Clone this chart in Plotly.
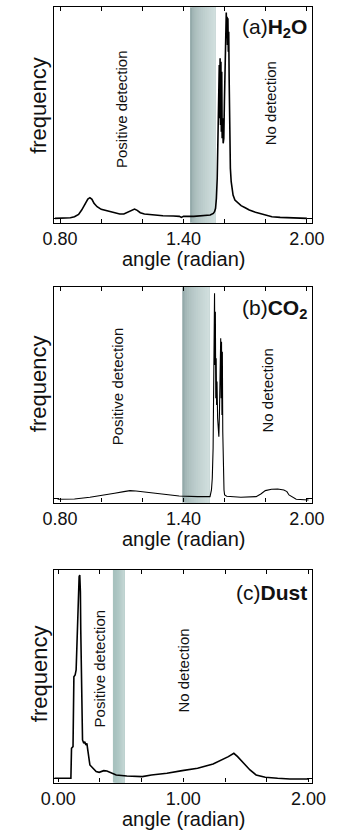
import plotly.graph_objects as go

W, H = 339, 836

# ---------------- data ----------------
# (a) H2O
h2o_x = [0.775, 0.80, 0.85, 0.87, 0.89, 0.905, 0.92, 0.935, 0.945, 0.955, 0.965, 0.98, 1.00, 1.03, 1.06,
         1.09, 1.11, 1.13, 1.15, 1.162, 1.175, 1.19, 1.21, 1.25, 1.30, 1.35, 1.38, 1.39, 1.40, 1.45,
         1.50, 1.53, 1.545, 1.551, 1.556, 1.560, 1.564, 1.568, 1.571, 1.574, 1.576, 1.578, 1.580, 1.582,
         1.584, 1.586, 1.588, 1.590, 1.593, 1.596, 1.599, 1.602, 1.604, 1.606, 1.608, 1.610, 1.612,
         1.614, 1.616, 1.618, 1.620, 1.622, 1.625, 1.628, 1.632, 1.636, 1.641, 1.650, 1.665, 1.68,
         1.70, 1.72, 1.75, 1.77, 1.80, 1.83, 1.87, 1.90, 1.95, 2.00]
h2o_y = [0, 0, 2, 5, 12, 25, 42, 58, 62, 57, 45, 35, 27, 22, 17,
         13, 13, 19, 26, 28, 24, 17, 13, 10, 8, 7, 6, 3, 6, 6,
         8, 10, 15, 20, 30, 60, 120, 250, 330, 460, 300, 480, 280, 470,
         260, 440, 240, 300, 225, 240, 350, 480, 590, 520, 617, 540, 605,
         520, 600, 500, 560, 420, 250, 150, 110, 85, 70, 55, 45, 38,
         32, 25, 18, 15, 10, 5, 3, 2, 1, 0]

# (b) CO2
co2_x = [0.788, 0.870, 0.945, 0.990, 1.020, 1.065, 1.110, 1.140, 1.169, 1.214, 1.259, 1.319, 1.379,
         1.469, 1.521, 1.529, 1.536, 1.540, 1.544, 1.547, 1.549, 1.551, 1.553, 1.555, 1.557, 1.559,
         1.561, 1.563, 1.566, 1.569, 1.572, 1.575, 1.578, 1.581, 1.583, 1.585, 1.587, 1.589, 1.591,
         1.594, 1.597, 1.600, 1.610, 1.679, 1.723, 1.753, 1.776, 1.798, 1.828, 1.858, 1.888, 1.903,
         1.913, 1.948, 2.008]
co2_y = [-3, -2, 3, 7, 10, 15, 20, 23, 22, 19, 15, 10, 7,
         5, 5, 5, 25, 60, 150, 300, 450, 615, 400, 560, 300, 420,
         280, 350, 240, 200, 185, 260, 400, 480, 300, 470, 250, 440, 200,
         80, 25, 10, 6, 3, 3, 5, 13, 23, 27, 28, 25, 20,
         10, -3, -5]

# (c) Dust
dust_x = [-0.030, 0.101, 0.106, 0.118, 0.125, 0.135, 0.143, 0.150, 0.155, 0.162, 0.167, 0.172, 0.177,
          0.180, 0.187, 0.194, 0.204, 0.212, 0.221, 0.229, 0.236, 0.241, 0.253, 0.278, 0.303, 0.327,
          0.364, 0.389, 0.426, 0.463, 0.548, 0.672, 0.745, 0.869, 0.991, 1.114, 1.238, 1.311, 1.360,
          1.404, 1.434, 1.483, 1.533, 1.582, 1.655, 1.754, 1.852, 2.000]
dust_y = [0, 0, 90, 95, 305, 310, 325, 425, 485, 595, 605, 610, 560,
          445, 225, 115, 105, 110, 100, 105, 85, 65, 40, 30, 20, 18,
          23, 22, 15, 10, 7, 5, 10, 15, 23, 30, 43, 55, 65,
          75, 65, 45, 25, 10, 3, 0, -2, -2]

# detection bands (angle ranges)
band_a = [1.432, 1.556]
band_b = [1.394, 1.526]
band_c = [0.437, 0.529]

# tick labels
tick_ab_vals = [0.8, 1.4, 2.0]
tick_ab_text = ["0.80", "1.40", "2.00"]
tick_ab_minor = [1.0, 1.2, 1.6, 1.8]
tick_c_vals = [0.0, 1.0, 2.0]
tick_c_text = ["0.00", "1.00", "2.00"]
tick_c_minor = [1/3, 2/3, 4/3, 5/3]

labels = ["(a)<b>H<sub>2</sub>O</b>", "(b)<b>CO<sub>2</sub></b>", "(c)<b>Dust</b>"]

# ---------------- layout geometry (pixels) ----------------
FONT = "Liberation Sans"
TXT = "#111111"
xl, xr = 44, 324
panels = [  # top, bottom px
    (7.3, 222.7),
    (287.3, 502.5),
    (570.0, 782.5),
]

def px(x):
    return x / W

def py(y):
    return 1 - y / H

fig = go.Figure()
series = [(h2o_x, h2o_y, 1.6), (co2_x, co2_y, 1.1), (dust_x, dust_y, 1.6)]
for i, (xs, ys, lw) in enumerate(series):
    sfx = "" if i == 0 else str(i + 1)
    fig.add_trace(go.Scatter(x=xs, y=ys, mode="lines", line=dict(color="black", width=lw),
                             xaxis="x" + sfx, yaxis="y" + sfx, showlegend=False, hoverinfo="skip"))

xranges = [[0.7686, 2.0256], [0.7686, 2.0256], [-0.037, 2.030]]
yranges = [[-13, 633], [-12.6, 633], [-12.6, 625]]
tickv = [tick_ab_vals, tick_ab_vals, tick_c_vals]
tickt = [tick_ab_text, tick_ab_text, tick_c_text]
tickm = [tick_ab_minor, tick_ab_minor, tick_c_minor]

layout = dict(width=W, height=H, margin=dict(l=0, r=0, t=0, b=0),
              paper_bgcolor="white", plot_bgcolor="white", showlegend=False,
              font=dict(family=FONT, color=TXT))
for i, (top, bot) in enumerate(panels):
    sfx = "" if i == 0 else str(i + 1)
    layout["xaxis" + sfx] = dict(
        domain=[px(xl), px(xr)], range=xranges[i], anchor="y" + sfx,
        showline=True, linecolor="black", linewidth=1.3, mirror="ticks",
        ticks="inside", ticklen=4, tickcolor="black", tickwidth=1,
        tickvals=tickv[i], ticktext=tickt[i], tickfont=dict(size=18, family=FONT, color=TXT),
        minor=dict(tickvals=tickm[i], ticks="inside", ticklen=4, tickcolor="black", tickwidth=1,
                   showgrid=False),
        showgrid=False, zeroline=False, fixedrange=True)
    layout["yaxis" + sfx] = dict(
        domain=[py(bot), py(top)], range=yranges[i], anchor="x" + sfx,
        showline=True, linecolor="black", linewidth=1.3, mirror="ticks",
        ticks="inside", ticklen=5, tickcolor="black", tickvals=[0], showticklabels=False,
        showgrid=False, zeroline=False, fixedrange=True)
fig.update_layout(**layout)

# bands as soft gradient (overlapping strips, dark on the left -> light on the right)
bands = [band_a, band_b, band_c]
for i, (b0, b1) in enumerate(bands):
    sfx = "" if i == 0 else str(i + 1)
    n = 12
    for k in range(n):
        t = k / (n - 1)
        if i < 2:
            c0, c1 = (148, 170, 170), (208, 222, 221)
            col = tuple(int(c0[j] + (c1[j] - c0[j]) * (t ** 0.55)) for j in range(3))
        else:
            c0, c1 = (168, 194, 191), (196, 215, 212)
            col = tuple(int(c0[j] + (c1[j] - c0[j]) * (t ** 1.5)) for j in range(3))
        fig.add_shape(type="rect", xref="x" + sfx, yref="paper",
                      x0=b0 + (b1 - b0) * k / n, x1=b1,
                      y0=py(panels[i][1]), y1=py(panels[i][0]),
                      fillcolor="rgb(%d,%d,%d)" % col, line=dict(width=0), layer="below")

ann = []
# panel labels
lab_y = [28, 309, 592]
for i in range(3):
    ann.append(dict(text=labels[i], x=px(321), y=py(lab_y[i]), xref="paper", yref="paper",
                    xanchor="right", yanchor="middle", showarrow=False,
                    font=dict(size=21, family=FONT, color=TXT)))
# y titles
fy = [105.7, 384, 674]
for i in range(3):
    ann.append(dict(text="frequency", x=px(28.3), y=py(fy[i]), xref="paper", yref="paper",
                    textangle=-90, xanchor="center", yanchor="middle", showarrow=False,
                    font=dict(size=22, family=FONT, color=TXT)))
# x titles
ax_y = [259, 539, 819]
for i in range(3):
    ann.append(dict(text="angle (radian)", x=px(185), y=py(ax_y[i]), xref="paper", yref="paper",
                    xanchor="center", yanchor="middle", showarrow=False,
                    font=dict(size=20, family=FONT, color=TXT)))
# region texts
pos_xy = [(118.3, 108.8), (113.3, 386.7), (93.3, 668.3)]
no_xy = [(278.3, 103.3), (276.7, 390), (185, 670.8)]
for (x, y) in pos_xy:
    ann.append(dict(text="Positive detection", x=px(x), y=py(y), xref="paper", yref="paper",
                    textangle=-90, showarrow=False, xanchor="center", yanchor="middle",
                    font=dict(size=15, family=FONT, color=TXT)))
for (x, y) in no_xy:
    ann.append(dict(text="No detection", x=px(x), y=py(y), xref="paper", yref="paper",
                    textangle=-90, showarrow=False, xanchor="center", yanchor="middle",
                    font=dict(size=15, family=FONT, color=TXT)))
fig.update_layout(annotations=ann)

fig.write_html("out.html")
